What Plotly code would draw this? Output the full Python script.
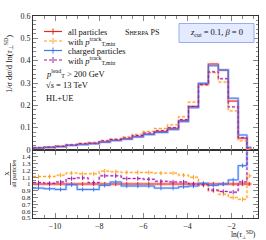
import plotly.graph_objects as go

# ---- data ----
bin_edges = [-11.0, -10.5, -10.0, -9.5, -9.0, -8.5, -8.0, -7.5, -7.0, -6.5, -6.0, -5.5,
             -4.9, -4.4, -3.95, -3.5, -3.05, -2.6, -2.15, -1.7, -1.3, -1.1]

all_particles = [0.0095, 0.0125, 0.016, 0.021, 0.026, 0.030, 0.036, 0.042, 0.050, 0.060, 0.071,
                 0.083, 0.097, 0.132, 0.195, 0.296, 0.385, 0.358, 0.219, 0.053, 0.003]
all_ptmin = [0.0105, 0.0139, 0.0181, 0.0244, 0.0299, 0.0345, 0.0428, 0.0496, 0.0585, 0.0702, 0.0831,
             0.0963, 0.1125, 0.1492, 0.2145, 0.2901, 0.3465, 0.3043, 0.1752, 0.0411, 0.0034]
charged = [0.0089, 0.0116, 0.0147, 0.0208, 0.0239, 0.0276, 0.0353, 0.0433, 0.0485, 0.0582, 0.0689,
           0.0780, 0.0912, 0.1267, 0.1892, 0.299, 0.377, 0.358, 0.232, 0.0673, 0.012]
charged_ptmin = [0.0097, 0.0126, 0.0165, 0.0227, 0.0283, 0.0306, 0.0403, 0.0470, 0.0540, 0.0648, 0.0760,
                 0.0863, 0.0999, 0.1360, 0.195, 0.293, 0.350, 0.319, 0.193, 0.0546, 0.009]

ratio_all = [1.0] * 21
ratio_all_ptmin = [1.11, 1.11, 1.13, 1.16, 1.15, 1.15, 1.19, 1.18, 1.17, 1.17, 1.17,
                   1.16, 1.16, 1.13, 1.10, 0.98, 0.90, 0.85, 0.80, 0.775, 1.12]
ratio_charged = [0.94, 0.93, 0.92, 0.99, 0.92, 0.92, 0.98, 1.03, 0.97, 0.97, 0.97,
                 0.94, 0.94, 0.96, 0.97, 1.01, 0.98, 1.00, 1.06, 1.27, 4.0]
ratio_charged_ptmin = [1.02, 1.01, 1.03, 1.08, 1.09, 1.02, 1.12, 1.12, 1.08, 1.08, 1.07,
                       1.04, 1.03, 1.03, 1.00, 0.99, 0.91, 0.89, 0.88, 1.03, 3.0]

main_ticks = [0, 0.1, 0.2, 0.3, 0.4, 0.5, 0.6]
ratio_ticks = [0.5, 0.6, 0.7, 0.8, 0.9, 1.0, 1.1, 1.2, 1.3, 1.4]
x_ticks = [-10, -8, -6, -4, -2]

legend_labels = ["all particles",
                 "with <i>p</i><sup>track</sup><sub>T,min</sub>",
                 "charged particles",
                 "with <i>p</i><sup>track</sup><sub>T,min</sub>"]

# ---- style ----
RED = "rgb(232,40,30)"
ORANGE = "rgb(255,160,30)"
BLUE = "rgb(60,120,240)"
PURPLE = "rgb(160,26,160)"
colors = [RED, ORANGE, BLUE, PURPLE]
bands = ["rgba(240,90,80,0.35)", "rgba(255,190,90,0.35)", "rgba(100,150,250,0.35)", "rgba(200,100,210,0.35)"]
dashes = ["solid", "3px,2px", "solid", "3px,2px"]
FONT = "Liberation Serif"

W, H = 266, 240
L, R, T, B = 33, 258, 16, 218
def px(x):
    return (x - L) / (R - L)
def py(y):
    return (B - y) / (B - T)

split = (B - 150) / (B - T)

fig = go.Figure()
centers = [(bin_edges[i] + bin_edges[i + 1]) / 2 for i in range(len(bin_edges) - 1)]

main_series = [all_particles, all_ptmin, charged, charged_ptmin]
ratio_series = [ratio_all, ratio_all_ptmin, ratio_charged, ratio_charged_ptmin]

for k in range(4):
    for (series, xa, ya) in [(main_series[k], "x2", "y2"), (ratio_series[k], "x", "y")]:
        yy = list(series) + [series[-1]]
        bw = 3.5 if (k == 0 and ya == "y") else 2.5
        fig.add_trace(go.Scatter(x=bin_edges, y=yy, mode="lines", line_shape="hv",
                                 line=dict(color=bands[k], width=bw, dash=dashes[k]),
                                 xaxis=xa, yaxis=ya, showlegend=False, hoverinfo="skip"))
        fig.add_trace(go.Scatter(x=bin_edges, y=yy, mode="lines", line_shape="hv",
                                 line=dict(color=colors[k], width=1, dash=dashes[k]),
                                 xaxis=xa, yaxis=ya, showlegend=False, hoverinfo="skip"))
    fig.add_trace(go.Scatter(x=centers, y=ratio_series[k], mode="markers",
                             marker=dict(symbol="line-ns", size=3, line=dict(color=colors[k], width=1)),
                             xaxis="x", yaxis="y", showlegend=False, hoverinfo="skip"))

axis_common = dict(showgrid=False, zeroline=False, showline=True, linecolor="#333", linewidth=1,
                   mirror="allticks", ticks="inside", tickcolor="#888", ticklen=5, tickwidth=1,
                   tickfont=dict(family=FONT, size=8, color="#222"))

fig.update_layout(
    width=W, height=H,
    margin=dict(l=L, r=W - R, t=T, b=H - B),
    paper_bgcolor="white", plot_bgcolor="white",
    showlegend=False,
    xaxis=dict(range=[-11, -0.8], domain=[0, 1], anchor="y", tickvals=x_ticks,
               minor=dict(dtick=0.5, ticks="inside", ticklen=3, tickcolor="#888"), **axis_common),
    yaxis=dict(range=[0.5, 1.5], domain=[0, split], anchor="x", tickvals=ratio_ticks,
               minor=dict(dtick=0.05, ticks="inside", ticklen=2.5, tickcolor="#888"),
               **{**axis_common, "tickfont": dict(family=FONT, size=7, color="#222")}),
    xaxis2=dict(range=[-11, -0.8], domain=[0, 1], anchor="y2", matches="x", tickvals=x_ticks,
                showticklabels=False,
                minor=dict(dtick=0.5, ticks="inside", ticklen=3, tickcolor="#888"), **axis_common),
    yaxis2=dict(range=[0, 0.6], domain=[split, 1], anchor="x2", tickvals=main_ticks,
                minor=dict(dtick=0.02, ticks="inside", ticklen=2.5, tickcolor="#888"), **axis_common),
)

shapes = []
annotations = []
leg_y = [31.5, 41, 50.5, 60]
for k in range(4):
    shapes.append(dict(type="line", xref="paper", yref="paper", x0=px(44), x1=px(62), y0=py(leg_y[k]), y1=py(leg_y[k]),
                       line=dict(color=colors[k], width=1.2, dash=dashes[k])))
    shapes.append(dict(type="line", xref="paper", yref="paper", x0=px(53), x1=px(53), y0=py(leg_y[k] - 3), y1=py(leg_y[k] + 3),
                       line=dict(color=colors[k], width=1)))
    annotations.append(dict(xref="paper", yref="paper", x=px(66), y=py(leg_y[k] + 0.5), xanchor="left", yanchor="middle",
                            text=legend_labels[k], showarrow=False, font=dict(family=FONT, size=8.5, color="#111")))

for txt, yv in [("<i>p</i><sup>lead</sup><sub>T</sub> > 200 GeV", 73), ("√<i>s</i> = 13 TeV", 84.5), ("HL+UE", 97.5)]:
    annotations.append(dict(xref="paper", yref="paper", x=px(44), y=py(yv), xanchor="left", yanchor="middle",
                            text=txt, showarrow=False, font=dict(family=FONT, size=8.5, color="#111")))

annotations.append(dict(xref="paper", yref="paper", x=px(123), y=py(33), xanchor="left", yanchor="middle",
                        text="S<span style='font-size:6px'>HERPA</span> PS", showarrow=False,
                        font=dict(family=FONT, size=8, color="#111")))
shapes.append(dict(type="rect", xref="paper", yref="paper", x0=px(179), x1=px(254), y0=py(23.5), y1=py(42.5),
                   fillcolor="rgb(228,234,255)", line=dict(color="rgb(150,175,240)", width=1)))
annotations.append(dict(xref="paper", yref="paper", x=px(216.5), y=py(33), xanchor="center", yanchor="middle",
                        text="<i>z</i><sub>cut</sub> = 0.1, <i>β</i> = 0", showarrow=False,
                        font=dict(family=FONT, size=8.5, color="#111")))

annotations.append(dict(xref="paper", yref="paper", x=px(8), y=py(64), xanchor="center", yanchor="middle",
                        textangle=-90, text="1/<i>σ</i> d<i>σ</i>/d ln(<i>τ</i><sub>⊥</sub><sup>SD</sup>)",
                        showarrow=False, font=dict(family=FONT, size=8.5, color="#111")))
annotations.append(dict(xref="paper", yref="paper", x=px(10.5), y=py(174), xanchor="center", yanchor="middle",
                        textangle=-90, text="X<br>all particles",
                        showarrow=False, font=dict(family=FONT, size=6, color="#111")))
shapes.append(dict(type="line", xref="paper", yref="paper", x0=px(10.5), x1=px(10.5), y0=py(163), y1=py(185),
                   line=dict(color="#111", width=0.6)))
annotations.append(dict(xref="paper", yref="paper", x=px(258), y=py(226.5), xanchor="right", yanchor="top",
                        text="ln(<i>τ</i><sub>⊥</sub><sup>SD</sup>)", showarrow=False,
                        font=dict(family=FONT, size=7.5, color="#111")))

fig.update_layout(shapes=shapes, annotations=annotations)
fig.write_html("out.html", config={"displayModeBar": False},
               post_script="document.body.style.margin='0px';document.body.style.padding='0px';")
